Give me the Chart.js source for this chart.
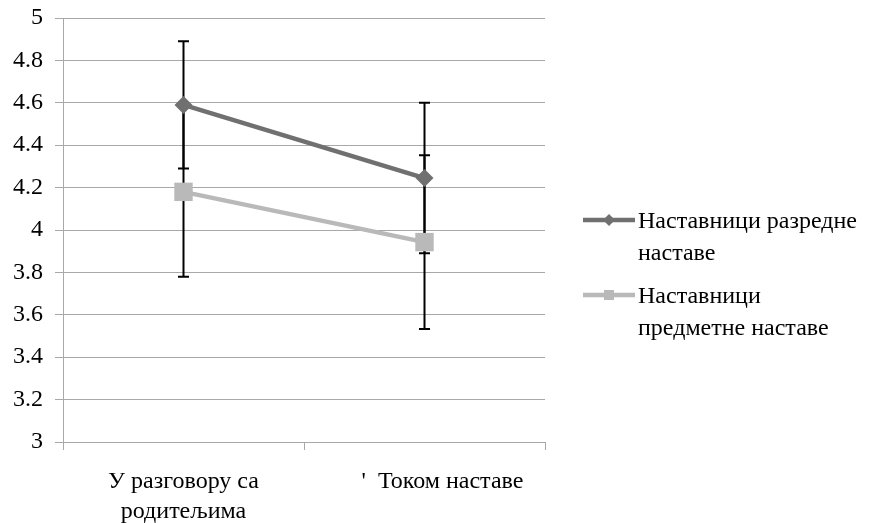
<!DOCTYPE html>
<html lang="sr">
<head>
    <meta charset="UTF-8">
    <title>Наставници</title>
    <script src="https://cdn.jsdelivr.net/npm/chart.js"></script>
    <style>
        body { margin: 0; background: #fff; }
        .wrap { width: 874px; height: 523px; position: relative; }
    </style>
</head>
<body>
    <div class="wrap"><canvas id="chart"></canvas></div>
    <script>
        // Data
        const categories = [['У разговору са', 'родитељима'], "      '  Током наставе"];
        const razredneMeans = [4.59, 4.245];
        const razredneErr = [0.30, 0.355];
        const predmetneMeans = [4.18, 3.943];
        const predmetneErr = [0.40, 0.41];
        const legendLabels = [
            ['Наставници разредне', 'наставе'],
            ['Наставници', 'предметне наставе']
        ];
        const yTicks = [3, 3.2, 3.4, 3.6, 3.8, 4, 4.2, 4.4, 4.6, 4.8, 5];

        const FONT = "'Liberation Serif', 'Times New Roman', serif";
        const gridColor = '#a8a8a8';

        // error bars drawn under the markers
        const errorBars = {
            id: 'errorBars',
            beforeDatasetsDraw(chart) {
                const ctx = chart.ctx;
                const y = chart.scales.y;
                ctx.save();
                ctx.strokeStyle = '#000';
                ctx.lineWidth = 2;
                chart.data.datasets.forEach((ds, i) => {
                    const meta = chart.getDatasetMeta(i);
                    meta.data.forEach((pt, j) => {
                        const top = y.getPixelForValue(ds.data[j] + ds.errors[j]);
                        const bot = y.getPixelForValue(ds.data[j] - ds.errors[j]);
                        ctx.beginPath();
                        ctx.moveTo(pt.x, top); ctx.lineTo(pt.x, bot);
                        ctx.moveTo(pt.x - 5.5, top); ctx.lineTo(pt.x + 5.5, top);
                        ctx.moveTo(pt.x - 5.5, bot); ctx.lineTo(pt.x + 5.5, bot);
                        ctx.stroke();
                    });
                });
                ctx.restore();
            }
        };

        // legend on the right with wrapped labels
        const sideLegend = {
            id: 'sideLegend',
            afterDraw(chart) {
                const ctx = chart.ctx;
                ctx.save();
                ctx.font = '24px ' + FONT;
                ctx.textBaseline = 'middle';
                const startY = [220, 295];
                chart.data.datasets.forEach((ds, i) => {
                    const yy = startY[i];
                    ctx.strokeStyle = ds.borderColor;
                    ctx.lineWidth = 4.5;
                    ctx.beginPath();
                    ctx.moveTo(583, yy); ctx.lineTo(635, yy);
                    ctx.stroke();
                    ctx.fillStyle = ds.borderColor;
                    ctx.beginPath();
                    if (ds.pointStyle === 'rectRot') {
                        ctx.moveTo(609, yy - 6); ctx.lineTo(615, yy);
                        ctx.lineTo(609, yy + 6); ctx.lineTo(603, yy);
                    } else {
                        ctx.rect(604, yy - 5, 10, 10);
                    }
                    ctx.fill();
                    ctx.fillStyle = '#000';
                    legendLabels[i].forEach((line, k) => {
                        ctx.fillText(line, 638, yy + 2 + k * 32);
                    });
                });
                ctx.restore();
            }
        };

        new Chart(document.getElementById('chart'), {
            type: 'line',
            data: {
                labels: categories,
                datasets: [{
                    label: legendLabels[0].join(' '),
                    data: razredneMeans,
                    errors: razredneErr,
                    borderColor: '#707070',
                    backgroundColor: '#707070',
                    borderWidth: 4.5,
                    pointStyle: 'rectRot',
                    pointRadius: 9,
                    pointBorderWidth: 0
                }, {
                    label: legendLabels[1].join(' '),
                    data: predmetneMeans,
                    errors: predmetneErr,
                    borderColor: '#b9b9b9',
                    backgroundColor: '#b9b9b9',
                    borderWidth: 4.5,
                    pointStyle: 'rect',
                    pointRadius: 13,
                    pointBorderWidth: 0
                }]
            },
            options: {
                responsive: true,
                maintainAspectRatio: false,
                animation: false,
                layout: { padding: { top: 18, right: 329, left: 0, bottom: 0 } },
                plugins: { legend: { display: false }, tooltip: { enabled: false } },
                scales: {
                    x: {
                        offset: true,
                        grid: { offset: true, drawOnChartArea: false, color: gridColor, tickLength: 8 },
                        border: { color: gridColor },
                        ticks: { color: '#000', font: { family: FONT, size: 24, lineHeight: 1.25 }, padding: 17, maxRotation: 0 },
                        afterFit(scale) { scale.height = 81; }
                    },
                    y: {
                        min: 3,
                        max: 5,
                        afterBuildTicks(scale) { scale.ticks = yTicks.map(v => ({ value: v })); },
                        grid: { color: gridColor, tickLength: 8 },
                        border: { color: gridColor },
                        ticks: {
                            color: '#000',
                            font: { family: FONT, size: 24 },
                            padding: 12,
                            callback: v => String(Number(v.toFixed(1)))
                        },
                        afterFit(scale) {
                            scale.width = 63;
                            scale.paddingTop = 0;
                            scale.paddingBottom = 0;
                        }
                    }
                }
            },
            plugins: [errorBars, sideLegend]
        });
    </script>
</body>
</html>
